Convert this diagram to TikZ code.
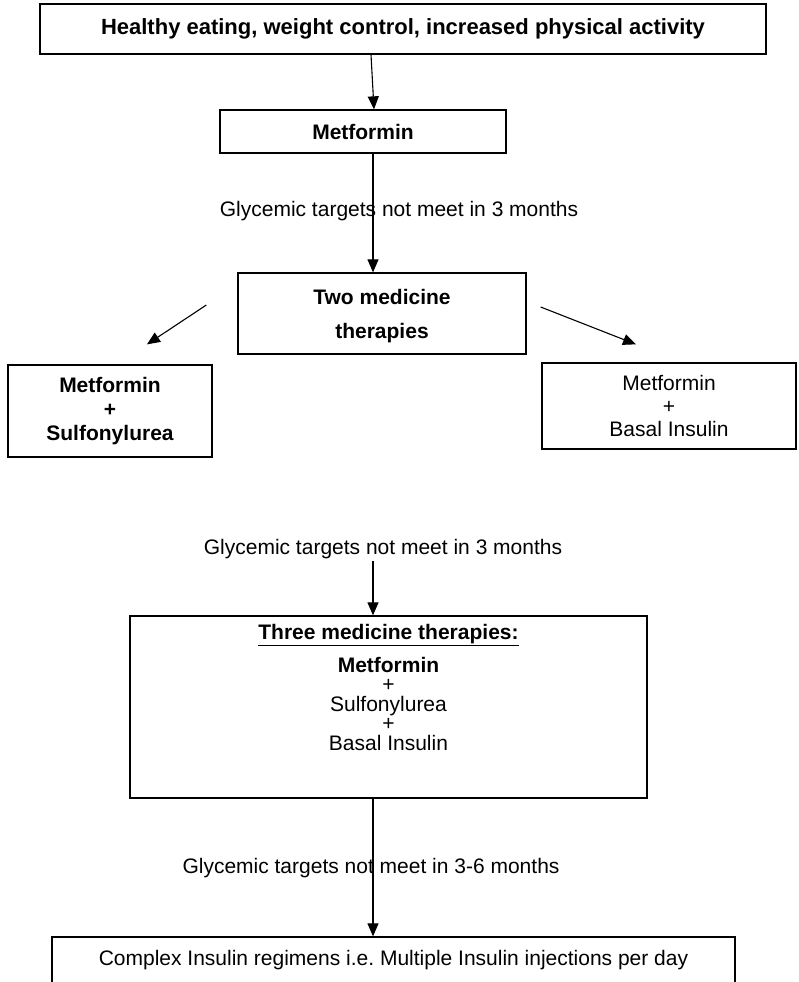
\documentclass[tikz,border=0pt]{standalone}
\usepackage{fontspec}
\setmainfont{Liberation Sans}
\usetikzlibrary{positioning,arrows.meta}
\tikzstyle{block} = [draw, rectangle, line width=1.3pt, align=center, inner sep=0pt]
\tikzstyle{note} = [align=center, inner sep=2pt]
\newcommand{\txt}{\fontsize{21}{24}\selectfont}

\begin{document}
\begin{tikzpicture}[auto, node distance=3cm, >={Triangle[length=13pt,width=11pt]}, line width=1.1pt, font=\txt]

\useasboundingbox (0,0) rectangle (798pt,-982pt);

\node [block, minimum width=726pt, minimum height=50pt, font=\fontsize{22}{24}\selectfont\bfseries] (lifestyle) at (403pt,-29pt) {Healthy eating, weight control, increased physical activity};
\node [block, below of=lifestyle, node distance=102.5pt, xshift=-40pt, minimum width=286pt, minimum height=43pt, font=\txt\bfseries] (metf) {Metformin};
\node [note, below of=metf, node distance=79.5pt, xshift=36pt] (glyc1) {Glycemic targets not meet in 3 months};
\node [block, below of=glyc1, node distance=102.5pt, xshift=-17pt, minimum width=288pt, minimum height=81pt, font=\fontsize{21}{34}\selectfont\bfseries] (two) {\rule{0pt}{21pt}Two medicine\\therapies};

\node [block, below of=two, node distance=97.5pt, xshift=-272pt, minimum width=204pt, minimum height=92pt, font=\fontsize{21}{24}\selectfont\bfseries] (metsulf) {Metformin\\+\\Sulfonylurea};
\node [block, below of=two, node distance=92.5pt, xshift=287pt, minimum width=254pt, minimum height=86pt, font=\fontsize{21}{23}\selectfont] (metbasal) {Metformin\\+\\Basal Insulin};

\node [note, below of=two, node distance=235.5pt, xshift=1pt] (glyc2) {Glycemic targets not meet in 3 months};
\node [block, below of=glyc2, node distance=158pt, xshift=5.5pt, minimum width=517pt, minimum height=182pt, font=\fontsize{21}{19.5}\selectfont] (three) {\underline{\textbf{Three medicine therapies:}}\\[10pt]\textbf{Metformin}\\+\\Sulfonylurea\\+\\Basal Insulin\\[20pt]\mbox{}};
\node [note, below of=three, node distance=161pt, xshift=-17.5pt] (glyc3) {Glycemic targets not meet in 3-6 months};
\node [block, below of=glyc3, node distance=92pt, xshift=22.5pt, minimum width=683pt, minimum height=46pt] (complex) {Complex Insulin regimens i.e.\ Multiple Insulin injections per day};

\draw [->] ([xshift=-32pt]lifestyle.south) -- ([xshift=11pt]metf.north);
\draw [->] ([xshift=10pt]metf.south) -- ([xshift=-9pt]two.north);
\draw [->] ([xshift=-31pt,yshift=8.5pt]two.west) -- ([xshift=37pt,yshift=20pt]metsulf.north);
\draw [->] ([xshift=14pt,yshift=6.5pt]two.east) -- ([xshift=-33pt,yshift=18pt]metbasal.north);
\draw [->] ([xshift=-10pt]glyc2.south) -- ([xshift=-15.5pt]three.north);
\draw [->] ([xshift=-15.5pt]three.south) -- ([xshift=-20.5pt]complex.north);

\end{tikzpicture}
\end{document}
